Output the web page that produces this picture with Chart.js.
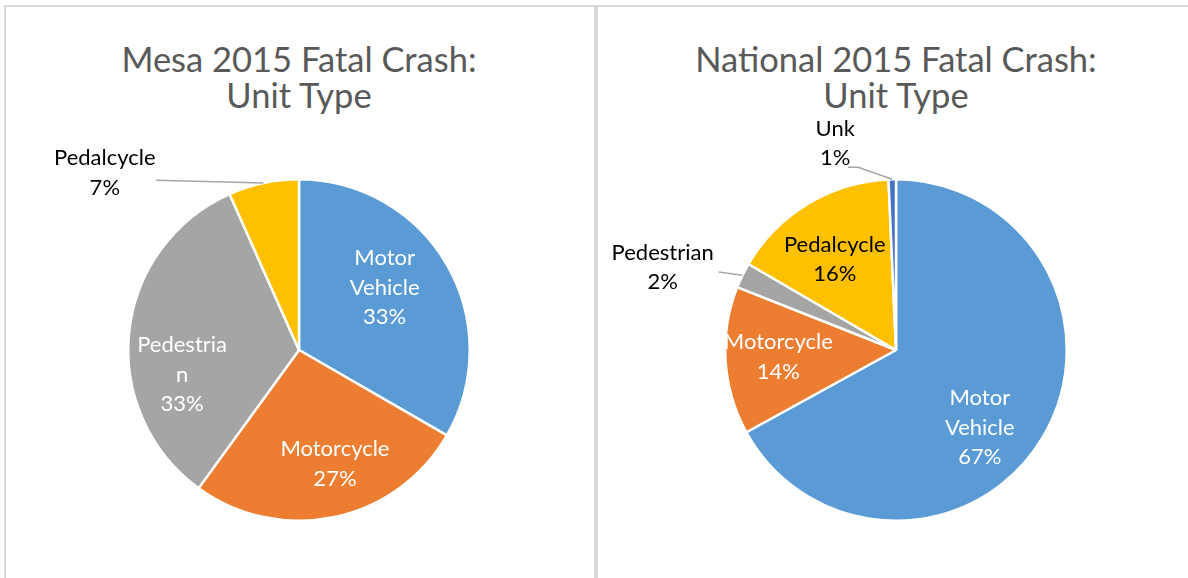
<!DOCTYPE html>
<html>
<head>
<meta charset="utf-8">
<script src="https://cdn.jsdelivr.net/npm/chart.js@4.4.0/dist/chart.umd.min.js"></script>
<style>
body{margin:0;background:#fff;width:1188px;height:578px;overflow:hidden;position:relative;font-family:Lato,sans-serif;}
.panel{position:absolute;top:5px;height:600px;border-top:2px solid #d9d9d9;box-sizing:border-box;}
#leftPanel{left:4px;width:592px;border-left:2px solid #d9d9d9;border-right:2px solid #d9d9d9;}
#rightPanel{left:596px;width:592px;border-left:2px solid #d9d9d9;}
.title{position:absolute;top:41px;text-align:center;color:#595959;font-size:34.5px;line-height:36px;}
canvas{position:absolute;top:0;}
</style>
</head>
<body>
<div class="panel" id="leftPanel"></div>
<div class="panel" id="rightPanel"></div>
<div class="title" style="left:0;width:598px">Mesa 2015 Fatal Crash:<br>Unit Type</div>
<div class="title" style="left:598px;width:596px">National 2015 Fatal Crash:<br>Unit Type</div>
<canvas id="mesaChart" width="594" height="578" style="left:0"></canvas>
<canvas id="natChart" width="592" height="578" style="left:596px"></canvas>
<script>
// datos de las dos tartas
const mesaCategories = ['Motor Vehicle', 'Motorcycle', 'Pedestrian', 'Pedalcycle'];
const mesaValues = [5, 4, 5, 1];
const mesaLines = [['Motor', 'Vehicle'], ['Motorcycle'], ['Pedestria', 'n'], ['Pedalcycle']];

const natCategories = ['Motor Vehicle', 'Motorcycle', 'Pedestrian', 'Pedalcycle', 'Unk'];
const natValues = [67, 14, 2.4, 15.9, 0.7];
const natLines = [['Motor', 'Vehicle'], ['Motorcycle'], ['Pedestrian'], ['Pedalcycle'], ['Unk']];

const sliceColors = ['#5b9bd5', '#ed7d31', '#a5a5a5', '#ffc000', '#4472c4'];

// donde va cada etiqueta: angulo desde arriba (grados) y fraccion del radio
const mesaPlace = [
    {a: 54, r: 0.62, color: '#fff'},
    {a: 162.5, r: 0.70, color: '#fff'},
    {a: 258, r: 0.70, color: '#fff'},
    {a: 312.4, r: 1.54, color: '#000', leader: [[319.9, 1.30]]}
];
const natPlace = [
    {a: 132.9, r: 0.67, color: '#fff'},
    {a: 266.6, r: 0.69, color: '#fff'},
    {a: 289.5, r: 1.45, color: '#000', leader: [[293.7, 1.135]]},
    {a: 325.9, r: 0.64, color: '#000'},
    {a: 343.6, r: 1.26, color: '#000', leader: [[345.3, 1.107], [348.3, 1.093]]}
];

const sliceLabels = {
    id: 'sliceLabels',
    afterDatasetsDraw(chart, args, opts) {
        const ctx = chart.ctx;
        const meta = chart.getDatasetMeta(0);
        const values = chart.data.datasets[0].data;
        const total = values.reduce((s, v) => s + v, 0);
        const polar = (arc, deg, f) => {
            const t = (deg - 90) * Math.PI / 180;
            return [arc.x + Math.cos(t) * f * arc.outerRadius, arc.y + Math.sin(t) * f * arc.outerRadius];
        };
        meta.data.forEach((arc, i) => {
            const p = opts.place[i];
            // linea guia hasta el borde de la porcion
            if (p.leader) {
                const mid = (arc.startAngle + arc.endAngle) / 2;
                const pts = p.leader.map(l => polar(arc, l[0], l[1]));
                pts.push([arc.x + Math.cos(mid) * arc.outerRadius, arc.y + Math.sin(mid) * arc.outerRadius]);
                ctx.save();
                ctx.strokeStyle = '#a6a6a6';
                ctx.lineWidth = 1.5;
                ctx.beginPath();
                ctx.moveTo(pts[0][0], pts[0][1]);
                pts.slice(1).forEach(q => ctx.lineTo(q[0], q[1]));
                ctx.stroke();
                ctx.restore();
            }
            const lines = opts.lines[i].concat([Math.round(values[i] / total * 100) + '%']);
            const [lx, ly] = polar(arc, p.a, p.r);
            ctx.save();
            ctx.font = '22px Lato';
            ctx.fillStyle = p.color;
            ctx.textAlign = 'center';
            ctx.textBaseline = 'middle';
            const lh = 29.5;
            lines.forEach((txt, k) => {
                ctx.fillText(txt, lx, ly + (k - (lines.length - 1) / 2) * lh);
            });
            ctx.restore();
        });
    }
};

function makePie(id, cats, vals, lines, place, pad) {
    new Chart(document.getElementById(id), {
        type: 'pie',
        data: {
            labels: cats,
            datasets: [{
                data: vals,
                backgroundColor: sliceColors.slice(0, vals.length),
                borderColor: '#ffffff',
                borderWidth: 2.5
            }]
        },
        options: {
            responsive: false,
            animation: false,
            events: [],
            layout: {padding: pad},
            plugins: {
                legend: {display: false},
                tooltip: {enabled: false},
                sliceLabels: {place: place, lines: lines}
            }
        },
        plugins: [sliceLabels]
    });
}

makePie('mesaChart', mesaCategories, mesaValues, mesaLines, mesaPlace, {top: 178, bottom: 56, left: 4, right: 0});
makePie('natChart', natCategories, natValues, natLines, natPlace, {top: 178, bottom: 56, left: 8, right: 0});
</script>
</body>
</html>
